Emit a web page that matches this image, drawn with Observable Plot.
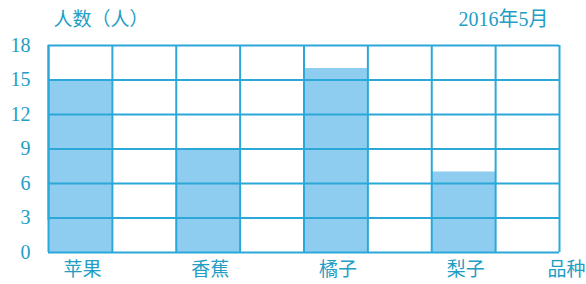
<!DOCTYPE html>
<html>
<head>
<meta charset="utf-8">
<script src="https://cdn.jsdelivr.net/npm/d3@7"></script>
<script src="https://cdn.jsdelivr.net/npm/@observablehq/plot@0.6"></script>
<style>
  html, body { margin: 0; padding: 0; background: #fff; }
</style>
</head>
<body>
<div id="chart"></div>
<script>
const categories = ["苹果", "香蕉", "橘子", "梨子"];
const values = [15, 9, 16, 7];
const yTicks = [0, 3, 6, 9, 12, 15, 18];
const yTitle = "人数（人）";
const dateLabel = "2016年5月";
const xTitle = "品种";
const columnCount = 8;

const lineColor = "#2aa8d8";
const barColor = "#8ecdf0";
const textColor = "#229dc4";

const bars = categories.map((c, i) => ({name: c, x1: i * 2, x2: i * 2 + 1, value: values[i]}));
const colEdges = d3.range(columnCount + 1);

const chart = Plot.plot({
  width: 586,
  height: 284,
  marginLeft: 48,
  marginRight: 27,
  marginTop: 45,
  marginBottom: 32,
  x: {domain: [0, columnCount], axis: null},
  y: {domain: [0, 18], axis: null},
  marks: [
    Plot.rectY(bars, {x1: "x1", x2: "x2", y1: 0, y2: "value", fill: barColor}),
    Plot.ruleY(yTicks, {stroke: lineColor, strokeWidth: 2}),
    Plot.ruleX(colEdges, {stroke: lineColor, strokeWidth: 2}),
    Plot.ruleX([0], {y1: 0, y2: 18, insetTop: -32, stroke: lineColor, strokeWidth: 2}),
    Plot.text(yTicks, {x: 0, y: d => d, text: d => String(d), dx: -18, textAnchor: "end",
      fontSize: 20, fontFamily: "Liberation Serif, serif", fill: textColor}),
    Plot.text(bars, {x: d => (d.x1 + d.x2) / 2, y: 0, text: "name", dy: 10, dx: 2,
      lineAnchor: "top", fontSize: 19, fontFamily: "Noto Sans CJK SC", fill: textColor}),
    Plot.text([xTitle], {x: columnCount, y: 0, text: d => d, dy: 10, dx: 7, textAnchor: "middle",
      lineAnchor: "top", fontSize: 19, fontFamily: "Noto Sans CJK SC", fill: textColor}),
    Plot.text([yTitle], {frameAnchor: "top-left", text: d => d, dx: 5, dy: -33, lineAnchor: "top",
      fontSize: 19, fontFamily: "Noto Sans CJK SC", fill: textColor}),
    Plot.text([dateLabel], {frameAnchor: "top-right", text: d => d, dx: -11, dy: -34, lineAnchor: "top",
      fontSize: 20, fontFamily: "Liberation Serif, Noto Sans CJK SC", fill: textColor})
  ]
});
document.getElementById("chart").appendChild(chart);
</script>
</body>
</html>
